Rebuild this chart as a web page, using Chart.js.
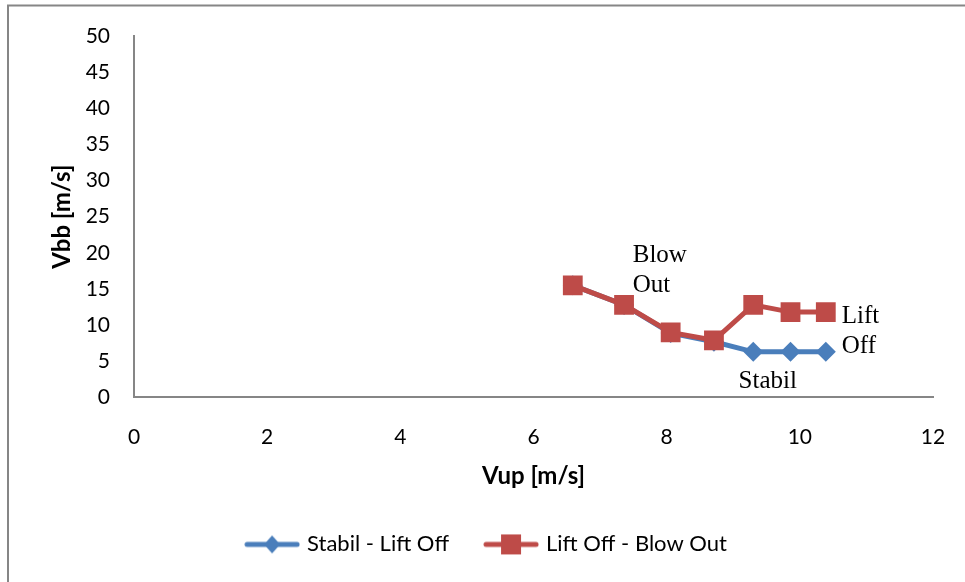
<!DOCTYPE html>
<html>
<head>
<meta charset="utf-8">
<script src="https://cdn.jsdelivr.net/npm/chart.js@4"></script>
<style>
  html, body { margin: 0; padding: 0; background: #fff; }
  #wrap { width: 965px; height: 582px; }
</style>
</head>
<body>
<div id="wrap"><canvas id="c" width="965" height="582"></canvas></div>
<script>
// Upstream velocity (x) and flame stability limits (y), m/s
const vup = [6.59, 7.36, 8.06, 8.71, 9.30, 9.86, 10.39];
const stabilLiftOff = [15.5, 12.8, 8.9, 7.7, 6.3, 6.3, 6.3];
const liftOffBlowOut = [15.5, 12.8, 9.0, 7.9, 12.8, 11.8, 11.8];
const seriesNames = ['Stabil - Lift Off', 'Lift Off - Blow Out'];
const xTicks = [0, 2, 4, 6, 8, 10, 12];
const yTicks = [0, 5, 10, 15, 20, 25, 30, 35, 40, 45, 50];

// Region labels placed in data coordinates: [text lines, x, y of first baseline]
const regionLabels = [
  { lines: ['Blow', 'Out'], x: 7.49, y: 18.7 },
  { lines: ['Lift', 'Off'], x: 10.63, y: 10.3 },
  { lines: ['Stabil'], x: 9.08, y: 1.35 }
];

const BLUE = '#4A7EBB';
const RED = '#BE4B48';
const AXIS = '#868686';
const SANS = 'Lato, "Open Sans", sans-serif';

function legendIcon(color, shape) {
  const cv = document.createElement('canvas');
  cv.width = 56; cv.height = 22;
  const g = cv.getContext('2d');
  g.strokeStyle = color; g.lineWidth = 5; g.lineCap = 'round';
  g.beginPath(); g.moveTo(3, 11); g.lineTo(53, 11); g.stroke();
  g.fillStyle = color;
  g.beginPath();
  if (shape === 'diamond') {
    g.moveTo(28, 2); g.lineTo(36, 11); g.lineTo(28, 20); g.lineTo(20, 11);
  } else {
    g.rect(18, 1, 20, 20);
  }
  g.closePath(); g.fill();
  return cv;
}
const icons = [legendIcon(BLUE, 'diamond'), legendIcon(RED, 'square')];

const toPoints = ys => vup.map((x, i) => ({ x, y: ys[i] }));

const frame = {
  id: 'frame',
  beforeDraw(chart) {
    const ctx = chart.ctx;
    ctx.save();
    ctx.fillStyle = '#fff';
    ctx.fillRect(0, 0, chart.width, chart.height);
    ctx.strokeStyle = AXIS;
    ctx.lineWidth = 2;
    ctx.strokeRect(8, 5.5, chart.width + 20, chart.height + 20);
    ctx.restore();
  }
};

const labelsPlugin = {
  id: 'regionLabels',
  afterDatasetsDraw(chart) {
    const ctx = chart.ctx;
    const xs = chart.scales.x, ys = chart.scales.y;
    ctx.save();
    ctx.fillStyle = '#000';
    ctx.font = '25px "Liberation Serif", "Times New Roman", serif';
    ctx.textBaseline = 'alphabetic';
    ctx.textAlign = 'left';
    regionLabels.forEach(l => {
      const px = xs.getPixelForValue(l.x);
      const py = ys.getPixelForValue(l.y);
      l.lines.forEach((t, i) => ctx.fillText(t, px, py + i * 30));
    });
    ctx.restore();
  }
};

const legendShift = {
  id: 'legendShift',
  afterLayout(chart) {
    const lg = chart.legend;
    if (lg) { lg.left += 16; lg.right += 16; }
  }
};

new Chart(document.getElementById('c'), {
  type: 'line',
  data: {
    datasets: [
      {
        label: seriesNames[0],
        data: toPoints(stabilLiftOff),
        order: 2,
        borderColor: BLUE,
        backgroundColor: BLUE,
        borderWidth: 5,
        pointStyle: 'rectRot',
        pointRadius: 10,
        pointBorderWidth: 0,
        pointBackgroundColor: BLUE,
        tension: 0
      },
      {
        label: seriesNames[1],
        data: toPoints(liftOffBlowOut),
        order: 1,
        borderColor: RED,
        backgroundColor: RED,
        borderWidth: 5,
        pointStyle: 'rect',
        pointRadius: 14,
        pointBorderWidth: 0,
        pointBackgroundColor: RED,
        tension: 0
      }
    ]
  },
  options: {
    responsive: false,
    animation: false,
    devicePixelRatio: 1,
    layout: { padding: { left: 10, right: 32, top: 36, bottom: 16.6 } },
    plugins: {
      tooltip: { enabled: false },
      legend: {
        position: 'bottom',
        labels: {
          usePointStyle: true,
          pointStyleWidth: 48,
          padding: 38,
          color: '#000',
          font: { family: SANS, size: 22 },
          generateLabels(chart) {
            return chart.data.datasets.map((d, i) => ({
              text: d.label,
              pointStyle: icons[i],
              fillStyle: d.borderColor,
              strokeStyle: d.borderColor,
              lineWidth: 0,
              hidden: false,
              datasetIndex: i,
              fontColor: '#000'
            }));
          }
        }
      }
    },
    scales: {
      x: {
        type: 'linear',
        min: 0, max: 12,
        afterBuildTicks(s) { s.ticks = xTicks.map(v => ({ value: v })); },
        afterFit(s) { s.height = 98; s.paddingLeft = 0; s.paddingRight = 0; },
        grid: { display: false, drawTicks: false },
        border: { display: true, color: AXIS, width: 2 },
        ticks: { color: '#000', padding: 27, font: { family: SANS, size: 21 } },
        title: {
          display: true, text: 'Vup [m/s]', color: '#000',
          font: { family: SANS, size: 24, weight: 'bold' },
          padding: { top: 0, bottom: 4.6 }
        }
      },
      y: {
        type: 'linear',
        min: 0, max: 50,
        afterBuildTicks(s) { s.ticks = yTicks.map(v => ({ value: v })); },
        afterFit(s) { s.width = 124; s.paddingTop = 0; s.paddingBottom = 0; },
        grid: { display: false, drawTicks: false },
        border: { display: true, color: AXIS, width: 2 },
        ticks: { color: '#000', padding: 24, font: { family: SANS, size: 21 } },
        title: {
          display: true, text: 'Vbb [m/s]', color: '#000',
          font: { family: SANS, size: 24, weight: 'bold' },
          padding: { top: 37.6, bottom: 0 }
        }
      }
    }
  },
  plugins: [frame, labelsPlugin, legendShift]
});
</script>
</body>
</html>
